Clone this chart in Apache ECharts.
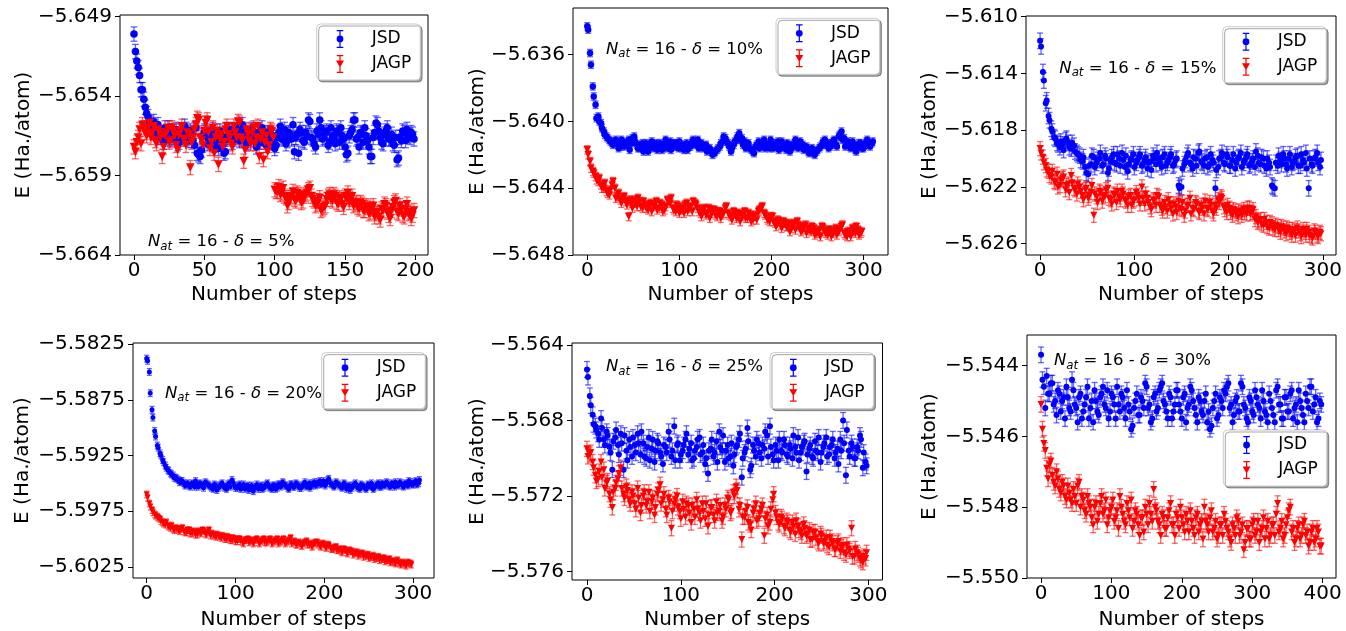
<!DOCTYPE html>
<html>
<head>
<meta charset="utf-8">
<script src="https://cdn.jsdelivr.net/npm/echarts@6/dist/echarts.min.js"></script>
<style>
html, body { margin: 0; padding: 0; background: #ffffff; }
#chart { width: 1346px; height: 631px; }
</style>
</head>
<body>
<div id="chart"></div>
<script>
// ---- VMC energy per atom (Ha./atom) vs optimisation step, N_at = 16 ----
// Each array holds the energies sampled every `stride` steps, beginning at its `start` step.

// delta = 5%  (even steps: *a, odd steps: *b)
const jsd1a = [-5.6501,-5.6518,-5.6527,-5.6536,-5.6547,-5.6553,-5.6558,-5.6556,-5.6561,-5.6564,
  -5.6565,-5.6560,-5.6567,-5.6562,-5.6566,-5.6561,-5.6569,-5.6563,-5.6559,-5.6566,
  -5.6562,-5.6568,-5.6560,-5.6577,-5.6574,-5.6563,-5.6570,-5.6566,-5.6561,-5.6568,
  -5.6573,-5.6565,-5.6576,-5.6567,-5.6562,-5.6569,-5.6564,-5.6560,-5.6567,-5.6563,
  -5.6570,-5.6565,-5.6561,-5.6567,-5.6563,-5.6569,-5.6565,-5.6571,-5.6564,-5.6568,
  -5.6573,-5.6566,-5.6559,-5.6565,-5.6570,-5.6563,-5.6567,-5.6575,-5.6564,-5.6561,
  -5.6568,-5.6563,-5.6555,-5.6566,-5.6570,-5.6562,-5.6555,-5.6567,-5.6563,-5.6571,
  -5.6560,-5.6566,-5.6562,-5.6569,-5.6565,-5.6572,-5.6576,-5.6563,-5.6555,-5.6567,
  -5.6572,-5.6564,-5.6560,-5.6568,-5.6578,-5.6566,-5.6557,-5.6562,-5.6569,-5.6564,
  -5.6560,-5.6567,-5.6570,-5.6566,-5.6579,-5.6568,-5.6563,-5.6561,-5.6566,-5.6564];
const jsd1b = [-5.6512,-5.6522,-5.6536,-5.6542,-5.6551,-5.6557,-5.6560,-5.6563,-5.6558,-5.6566,
  -5.6569,-5.6563,-5.6560,-5.6567,-5.6564,-5.6570,-5.6562,-5.6566,-5.6561,-5.6568,
  -5.6564,-5.6571,-5.6576,-5.6578,-5.6565,-5.6562,-5.6568,-5.6564,-5.6571,-5.6566,
  -5.6562,-5.6569,-5.6575,-5.6565,-5.6561,-5.6567,-5.6563,-5.6568,-5.6558,-5.6565,
  -5.6569,-5.6562,-5.6566,-5.6572,-5.6564,-5.6560,-5.6567,-5.6563,-5.6569,-5.6565,
  -5.6571,-5.6563,-5.6567,-5.6561,-5.6568,-5.6564,-5.6558,-5.6566,-5.6576,-5.6563,
  -5.6569,-5.6565,-5.6556,-5.6567,-5.6572,-5.6564,-5.6560,-5.6566,-5.6562,-5.6569,
  -5.6565,-5.6570,-5.6563,-5.6560,-5.6567,-5.6577,-5.6565,-5.6561,-5.6555,-5.6566,
  -5.6563,-5.6569,-5.6565,-5.6572,-5.6578,-5.6563,-5.6558,-5.6566,-5.6570,-5.6562,
  -5.6567,-5.6564,-5.6571,-5.6580,-5.6566,-5.6562,-5.6568,-5.6565,-5.6563,-5.6567];
const jagp1a = [-5.6572,-5.6569,-5.6561,-5.6558,-5.6563,-5.6560,-5.6566,-5.6559,-5.6570,-5.6563,
  -5.6578,-5.6565,-5.6560,-5.6568,-5.6562,-5.6571,-5.6564,-5.6559,-5.6567,-5.6563,
  -5.6585,-5.6566,-5.6558,-5.6555,-5.6568,-5.6562,-5.6555,-5.6573,-5.6560,-5.6566,
  -5.6583,-5.6564,-5.6569,-5.6559,-5.6566,-5.6572,-5.6563,-5.6556,-5.6566,-5.6581,
  -5.6561,-5.6568,-5.6563,-5.6570,-5.6559,-5.6567,-5.6580,-5.6565,-5.6571,-5.6562,
  -5.6599,-5.6600,-5.6602,-5.6598,-5.6604,-5.6607,-5.6603,-5.6605,-5.6601,-5.6604,
  -5.6606,-5.6602,-5.6599,-5.6603,-5.6606,-5.6608,-5.6604,-5.6611,-5.6609,-5.6603,
  -5.6605,-5.6602,-5.6607,-5.6604,-5.6608,-5.6603,-5.6601,-5.6605,-5.6609,-5.6607,
  -5.6611,-5.6608,-5.6612,-5.6610,-5.6613,-5.6609,-5.6614,-5.6616,-5.6611,-5.6608,
  -5.6613,-5.6617,-5.6610,-5.6606,-5.6614,-5.6611,-5.6616,-5.6608,-5.6613,-5.6615];
const jagp1b = [-5.6575,-5.6566,-5.6570,-5.6560,-5.6565,-5.6557,-5.6563,-5.6568,-5.6561,-5.6566,
  -5.6572,-5.6563,-5.6569,-5.6560,-5.6565,-5.6574,-5.6562,-5.6567,-5.6571,-5.6564,
  -5.6569,-5.6561,-5.6554,-5.6566,-5.6571,-5.6557,-5.6563,-5.6569,-5.6576,-5.6562,
  -5.6567,-5.6572,-5.6561,-5.6564,-5.6570,-5.6559,-5.6566,-5.6557,-5.6568,-5.6574,
  -5.6564,-5.6570,-5.6560,-5.6566,-5.6578,-5.6563,-5.6569,-5.6575,-5.6561,-5.6566,
  -5.6600,-5.6597,-5.6601,-5.6603,-5.6609,-5.6604,-5.6600,-5.6606,-5.6602,-5.6607,
  -5.6603,-5.6601,-5.6598,-5.6605,-5.6609,-5.6606,-5.6612,-5.6610,-5.6605,-5.6602,
  -5.6606,-5.6603,-5.6608,-5.6605,-5.6610,-5.6604,-5.6607,-5.6603,-5.6608,-5.6610,
  -5.6607,-5.6612,-5.6609,-5.6614,-5.6611,-5.6616,-5.6613,-5.6618,-5.6612,-5.6609,
  -5.6615,-5.6612,-5.6607,-5.6613,-5.6609,-5.6615,-5.6611,-5.6614,-5.6617,-5.6612];

// delta = 10%  (steps 0,3,6..: *a, steps 1,4,7..: *b)
const jsd2a = [-5.6343,-5.6359,-5.6379,-5.6390,-5.6397,-5.6401,-5.6406,-5.6409,-5.6411,-5.6413,-5.6412,
  -5.6413,-5.6415,-5.6412,-5.6414,-5.6411,-5.6413,-5.6409,-5.6414,-5.6416,-5.6413,
  -5.6415,-5.6418,-5.6414,-5.6416,-5.6413,-5.6415,-5.6417,-5.6414,-5.6416,-5.6412,
  -5.6415,-5.6413,-5.6416,-5.6414,-5.6417,-5.6413,-5.6415,-5.6412,-5.6414,-5.6411,
  -5.6414,-5.6416,-5.6414,-5.6417,-5.6418,-5.6419,-5.6417,-5.6415,-5.6412,-5.6410,
  -5.6413,-5.6418,-5.6414,-5.6411,-5.6407,-5.6410,-5.6412,-5.6414,-5.6416,-5.6418,
  -5.6415,-5.6412,-5.6414,-5.6411,-5.6414,-5.6416,-5.6413,-5.6415,-5.6412,-5.6416,
  -5.6414,-5.6417,-5.6414,-5.6416,-5.6413,-5.6415,-5.6412,-5.6414,-5.6416,-5.6418,
  -5.6417,-5.6419,-5.6418,-5.6416,-5.6414,-5.6411,-5.6413,-5.6415,-5.6412,-5.6414,
  -5.6409,-5.6406,-5.6410,-5.6413,-5.6415,-5.6412,-5.6417,-5.6415,-5.6413,-5.6416,
  -5.6412,-5.6414,-5.6413];
const jsd2b = [-5.6345,-5.6366,-5.6385,-5.6398,-5.6400,-5.6404,-5.6408,-5.6410,-5.6412,-5.6414,-5.6411,
  -5.6416,-5.6411,-5.6415,-5.6413,-5.6417,-5.6410,-5.6412,-5.6416,-5.6414,-5.6418,
  -5.6413,-5.6416,-5.6412,-5.6415,-5.6417,-5.6413,-5.6416,-5.6411,-5.6414,-5.6417,
  -5.6413,-5.6415,-5.6412,-5.6416,-5.6414,-5.6417,-5.6415,-5.6411,-5.6413,-5.6416,
  -5.6413,-5.6415,-5.6418,-5.6416,-5.6420,-5.6418,-5.6416,-5.6413,-5.6409,-5.6412,
  -5.6415,-5.6416,-5.6412,-5.6409,-5.6411,-5.6414,-5.6416,-5.6413,-5.6417,-5.6419,
  -5.6414,-5.6416,-5.6413,-5.6416,-5.6414,-5.6411,-5.6416,-5.6413,-5.6417,-5.6412,
  -5.6415,-5.6413,-5.6418,-5.6414,-5.6411,-5.6416,-5.6413,-5.6417,-5.6415,-5.6419,
  -5.6416,-5.6420,-5.6417,-5.6415,-5.6412,-5.6414,-5.6416,-5.6413,-5.6411,-5.6415,
  -5.6408,-5.6411,-5.6415,-5.6412,-5.6416,-5.6414,-5.6418,-5.6413,-5.6416,-5.6414,
  -5.6411,-5.6415,-5.6412];
const jagp2a = [-5.6417,-5.6424,-5.6430,-5.6433,-5.6436,-5.6438,-5.6440,-5.6442,-5.6444,-5.6438,
  -5.6440,-5.6445,-5.6447,-5.6446,-5.6448,-5.6457,-5.6449,-5.6447,-5.6451,-5.6448,
  -5.6452,-5.6450,-5.6453,-5.6449,-5.6451,-5.6448,-5.6452,-5.6450,-5.6453,-5.6447,
  -5.6449,-5.6452,-5.6454,-5.6451,-5.6453,-5.6455,-5.6449,-5.6452,-5.6454,-5.6449,
  -5.6452,-5.6455,-5.6453,-5.6456,-5.6452,-5.6455,-5.6453,-5.6457,-5.6454,-5.6456,
  -5.6452,-5.6455,-5.6457,-5.6454,-5.6458,-5.6455,-5.6457,-5.6454,-5.6458,-5.6456,
  -5.6459,-5.6456,-5.6454,-5.6452,-5.6455,-5.6458,-5.6460,-5.6457,-5.6461,-5.6459,
  -5.6462,-5.6460,-5.6463,-5.6461,-5.6464,-5.6461,-5.6460,-5.6463,-5.6465,-5.6462,
  -5.6464,-5.6466,-5.6464,-5.6467,-5.6465,-5.6463,-5.6466,-5.6468,-5.6465,-5.6467,
  -5.6464,-5.6466,-5.6463,-5.6467,-5.6469,-5.6466,-5.6464,-5.6467,-5.6465,-5.6467];
const jagp2b = [-5.6420,-5.6428,-5.6431,-5.6435,-5.6434,-5.6440,-5.6437,-5.6443,-5.6441,-5.6436,
  -5.6446,-5.6443,-5.6449,-5.6445,-5.6450,-5.6447,-5.6452,-5.6449,-5.6446,-5.6451,
  -5.6448,-5.6452,-5.6450,-5.6454,-5.6450,-5.6453,-5.6449,-5.6454,-5.6451,-5.6448,
  -5.6446,-5.6453,-5.6450,-5.6455,-5.6452,-5.6450,-5.6454,-5.6451,-5.6448,-5.6450,
  -5.6454,-5.6457,-5.6452,-5.6455,-5.6458,-5.6453,-5.6456,-5.6454,-5.6458,-5.6455,
  -5.6451,-5.6456,-5.6459,-5.6455,-5.6457,-5.6460,-5.6456,-5.6458,-5.6455,-5.6460,
  -5.6457,-5.6459,-5.6453,-5.6451,-5.6456,-5.6459,-5.6457,-5.6460,-5.6463,-5.6460,
  -5.6464,-5.6461,-5.6463,-5.6466,-5.6462,-5.6465,-5.6462,-5.6466,-5.6463,-5.6467,
  -5.6465,-5.6463,-5.6468,-5.6466,-5.6469,-5.6464,-5.6467,-5.6465,-5.6469,-5.6466,
  -5.6468,-5.6465,-5.6462,-5.6468,-5.6466,-5.6469,-5.6466,-5.6463,-5.6468,-5.6466];

// delta = 15%  (steps 0,3,6..: *a, steps 1,4,7..: *b)
const jsd3a = [-5.6117,-5.6139,-5.6161,-5.6170,-5.6179,-5.6185,-5.6189,-5.6192,-5.6190,-5.6187,
  -5.6189,-5.6193,-5.6191,-5.6196,-5.6198,-5.6202,-5.6206,-5.6211,-5.6204,-5.6199,
  -5.6203,-5.6200,-5.6205,-5.6198,-5.6210,-5.6202,-5.6197,-5.6204,-5.6200,-5.6196,
  -5.6206,-5.6209,-5.6201,-5.6197,-5.6203,-5.6199,-5.6205,-5.6201,-5.6207,-5.6202,
  -5.6198,-5.6204,-5.6200,-5.6206,-5.6197,-5.6203,-5.6199,-5.6205,-5.6201,-5.6219,
  -5.6220,-5.6204,-5.6198,-5.6203,-5.6207,-5.6200,-5.6196,-5.6202,-5.6205,-5.6199,
  -5.6204,-5.6201,-5.6221,-5.6206,-5.6199,-5.6203,-5.6197,-5.6205,-5.6201,-5.6207,
  -5.6200,-5.6196,-5.6203,-5.6199,-5.6205,-5.6202,-5.6206,-5.6198,-5.6204,-5.6200,
  -5.6207,-5.6203,-5.6219,-5.6221,-5.6205,-5.6201,-5.6197,-5.6204,-5.6200,-5.6206,
  -5.6202,-5.6198,-5.6205,-5.6201,-5.6196,-5.6221,-5.6204,-5.6200,-5.6196,-5.6206];
const jsd3b = [-5.6121,-5.6145,-5.6159,-5.6173,-5.6181,-5.6186,-5.6190,-5.6188,-5.6194,-5.6186,
  -5.6192,-5.6189,-5.6195,-5.6197,-5.6201,-5.6199,-5.6210,-5.6205,-5.6198,-5.6206,
  -5.6201,-5.6196,-5.6204,-5.6200,-5.6207,-5.6199,-5.6203,-5.6197,-5.6205,-5.6201,
  -5.6198,-5.6204,-5.6200,-5.6206,-5.6201,-5.6197,-5.6204,-5.6199,-5.6203,-5.6208,
  -5.6200,-5.6196,-5.6203,-5.6199,-5.6205,-5.6201,-5.6197,-5.6204,-5.6200,-5.6221,
  -5.6207,-5.6201,-5.6196,-5.6204,-5.6199,-5.6205,-5.6195,-5.6203,-5.6200,-5.6206,
  -5.6197,-5.6203,-5.6208,-5.6200,-5.6196,-5.6204,-5.6199,-5.6205,-5.6197,-5.6203,
  -5.6199,-5.6206,-5.6201,-5.6197,-5.6204,-5.6200,-5.6195,-5.6203,-5.6199,-5.6205,
  -5.6200,-5.6206,-5.6220,-5.6203,-5.6198,-5.6204,-5.6200,-5.6207,-5.6197,-5.6203,
  -5.6199,-5.6205,-5.6197,-5.6203,-5.6207,-5.6200,-5.6205,-5.6199,-5.6203,-5.6201];
const jagp3a = [-5.6193,-5.6199,-5.6205,-5.6209,-5.6213,-5.6216,-5.6211,-5.6219,-5.6214,-5.6222,
  -5.6218,-5.6212,-5.6221,-5.6225,-5.6220,-5.6226,-5.6222,-5.6228,-5.6224,-5.6240,
  -5.6227,-5.6223,-5.6230,-5.6226,-5.6221,-5.6229,-5.6225,-5.6231,-5.6227,-5.6223,
  -5.6229,-5.6233,-5.6226,-5.6230,-5.6224,-5.6228,-5.6220,-5.6232,-5.6228,-5.6234,
  -5.6229,-5.6233,-5.6227,-5.6235,-5.6231,-5.6237,-5.6232,-5.6239,-5.6234,-5.6230,
  -5.6236,-5.6240,-5.6233,-5.6228,-5.6235,-5.6231,-5.6237,-5.6233,-5.6239,-5.6235,
  -5.6231,-5.6237,-5.6233,-5.6229,-5.6227,-5.6234,-5.6238,-5.6235,-5.6240,-5.6237,
  -5.6241,-5.6238,-5.6236,-5.6239,-5.6235,-5.6238,-5.6243,-5.6245,-5.6243,-5.6247,
  -5.6245,-5.6249,-5.6246,-5.6250,-5.6248,-5.6252,-5.6249,-5.6253,-5.6250,-5.6254,
  -5.6251,-5.6249,-5.6253,-5.6250,-5.6254,-5.6252,-5.6255,-5.6251,-5.6254,-5.6252];
const jagp3b = [-5.6196,-5.6203,-5.6208,-5.6212,-5.6209,-5.6217,-5.6220,-5.6215,-5.6213,-5.6219,
  -5.6224,-5.6217,-5.6222,-5.6218,-5.6223,-5.6229,-5.6221,-5.6226,-5.6219,-5.6225,
  -5.6231,-5.6224,-5.6227,-5.6222,-5.6228,-5.6232,-5.6226,-5.6223,-5.6229,-5.6225,
  -5.6230,-5.6227,-5.6233,-5.6229,-5.6226,-5.6232,-5.6228,-5.6225,-5.6231,-5.6236,
  -5.6230,-5.6226,-5.6233,-5.6237,-5.6234,-5.6229,-5.6235,-5.6232,-5.6238,-5.6235,
  -5.6231,-5.6237,-5.6233,-5.6239,-5.6236,-5.6232,-5.6238,-5.6235,-5.6230,-5.6236,
  -5.6233,-5.6239,-5.6235,-5.6231,-5.6228,-5.6236,-5.6233,-5.6238,-5.6236,-5.6239,
  -5.6237,-5.6240,-5.6238,-5.6235,-5.6239,-5.6236,-5.6241,-5.6244,-5.6246,-5.6243,
  -5.6248,-5.6245,-5.6249,-5.6247,-5.6250,-5.6248,-5.6251,-5.6249,-5.6252,-5.6250,
  -5.6254,-5.6251,-5.6255,-5.6252,-5.6250,-5.6254,-5.6256,-5.6252,-5.6255,-5.6253];

// delta = 20%  (steps 0,3,6..: *a, steps 1,4,7..: *b)
const jsd4a = [-5.5838,-5.5850,-5.5884,-5.5903,-5.5916,-5.5923,-5.5929,-5.5934,-5.5938,-5.5941,
  -5.5943,-5.5945,-5.5947,-5.5948,-5.5950,-5.5951,-5.5952,-5.5950,-5.5953,-5.5951,
  -5.5950,-5.5952,-5.5949,-5.5951,-5.5953,-5.5955,-5.5952,-5.5954,-5.5951,-5.5953,
  -5.5955,-5.5950,-5.5947,-5.5952,-5.5954,-5.5951,-5.5953,-5.5955,-5.5952,-5.5954,
  -5.5957,-5.5953,-5.5955,-5.5952,-5.5954,-5.5951,-5.5953,-5.5955,-5.5952,-5.5954,
  -5.5951,-5.5949,-5.5952,-5.5954,-5.5951,-5.5953,-5.5950,-5.5952,-5.5954,-5.5951,
  -5.5953,-5.5950,-5.5952,-5.5949,-5.5951,-5.5948,-5.5950,-5.5952,-5.5947,-5.5950,
  -5.5952,-5.5949,-5.5951,-5.5953,-5.5950,-5.5955,-5.5952,-5.5954,-5.5951,-5.5953,
  -5.5955,-5.5952,-5.5954,-5.5951,-5.5953,-5.5955,-5.5952,-5.5950,-5.5953,-5.5951,
  -5.5949,-5.5952,-5.5950,-5.5953,-5.5951,-5.5949,-5.5952,-5.5950,-5.5952,-5.5949,
  -5.5951,-5.5948,-5.5950];
const jsd4b = [-5.5840,-5.5869,-5.5891,-5.5908,-5.5918,-5.5925,-5.5931,-5.5936,-5.5939,-5.5942,
  -5.5945,-5.5946,-5.5949,-5.5948,-5.5952,-5.5950,-5.5953,-5.5951,-5.5948,-5.5953,
  -5.5951,-5.5954,-5.5950,-5.5952,-5.5954,-5.5951,-5.5956,-5.5952,-5.5950,-5.5954,
  -5.5951,-5.5953,-5.5949,-5.5954,-5.5952,-5.5955,-5.5951,-5.5953,-5.5956,-5.5952,
  -5.5954,-5.5951,-5.5953,-5.5955,-5.5952,-5.5950,-5.5954,-5.5952,-5.5955,-5.5951,
  -5.5953,-5.5950,-5.5952,-5.5955,-5.5951,-5.5953,-5.5951,-5.5954,-5.5952,-5.5949,
  -5.5952,-5.5954,-5.5950,-5.5952,-5.5949,-5.5951,-5.5948,-5.5950,-5.5946,-5.5951,
  -5.5953,-5.5950,-5.5952,-5.5954,-5.5951,-5.5953,-5.5956,-5.5952,-5.5950,-5.5954,
  -5.5951,-5.5953,-5.5955,-5.5952,-5.5950,-5.5954,-5.5951,-5.5953,-5.5950,-5.5952,
  -5.5950,-5.5953,-5.5951,-5.5949,-5.5952,-5.5950,-5.5953,-5.5951,-5.5948,-5.5951,
  -5.5949,-5.5951,-5.5947];
const jagp4a = [-5.5960,-5.5968,-5.5974,-5.5978,-5.5980,-5.5982,-5.5985,-5.5987,-5.5988,-5.5990,
  -5.5991,-5.5990,-5.5992,-5.5991,-5.5993,-5.5994,-5.5992,-5.5995,-5.5994,-5.5996,
  -5.5994,-5.5992,-5.5995,-5.5994,-5.5997,-5.5996,-5.5998,-5.5997,-5.5999,-5.5998,
  -5.6000,-5.5999,-5.6001,-5.6000,-5.6002,-5.6000,-5.6003,-5.6001,-5.6000,-5.6002,
  -5.6004,-5.6001,-5.6003,-5.6002,-5.6000,-5.6003,-5.6001,-5.6004,-5.6002,-5.6000,
  -5.6003,-5.6001,-5.6004,-5.6002,-5.5999,-5.6003,-5.6005,-5.6003,-5.6006,-5.6004,
  -5.6002,-5.6005,-5.6007,-5.6004,-5.6003,-5.6006,-5.6004,-5.6007,-5.6005,-5.6008,
  -5.6009,-5.6007,-5.6010,-5.6011,-5.6009,-5.6012,-5.6010,-5.6011,-5.6013,-5.6012,
  -5.6014,-5.6013,-5.6015,-5.6014,-5.6016,-5.6015,-5.6017,-5.6016,-5.6018,-5.6017,
  -5.6019,-5.6018,-5.6020,-5.6021,-5.6019,-5.6022,-5.6021,-5.6023,-5.6021,-5.6022];
const jagp4b = [-5.5963,-5.5971,-5.5976,-5.5979,-5.5981,-5.5984,-5.5986,-5.5985,-5.5989,-5.5988,
  -5.5992,-5.5991,-5.5993,-5.5990,-5.5994,-5.5992,-5.5995,-5.5993,-5.5996,-5.5993,
  -5.5995,-5.5993,-5.5996,-5.5992,-5.5995,-5.5997,-5.5996,-5.5998,-5.5997,-5.6000,
  -5.5998,-5.6001,-5.5999,-5.6002,-5.6000,-5.6002,-5.6004,-5.6001,-5.6003,-5.6001,
  -5.6003,-5.6000,-5.6004,-5.6001,-5.6003,-5.6002,-5.6000,-5.6003,-5.6001,-5.6004,
  -5.6002,-5.6000,-5.6003,-5.6001,-5.6004,-5.6002,-5.6005,-5.6004,-5.6006,-5.6003,
  -5.6005,-5.6004,-5.6006,-5.6003,-5.6005,-5.6007,-5.6005,-5.6008,-5.6006,-5.6009,
  -5.6008,-5.6010,-5.6009,-5.6012,-5.6010,-5.6013,-5.6011,-5.6014,-5.6012,-5.6015,
  -5.6013,-5.6016,-5.6015,-5.6017,-5.6016,-5.6018,-5.6017,-5.6019,-5.6018,-5.6020,
  -5.6019,-5.6021,-5.6020,-5.6022,-5.6021,-5.6023,-5.6022,-5.6024,-5.6022,-5.6023];

// delta = 25%  (steps 0,3,6..: *a, steps 1,4,7..: *b)
const jsd5a = [-5.5653,-5.5667,-5.5677,-5.5683,-5.5687,-5.5679,-5.5690,-5.5686,-5.5694,-5.5706,
  -5.5689,-5.5693,-5.5687,-5.5706,-5.5696,-5.5690,-5.5699,-5.5693,-5.5687,-5.5698,
  -5.5692,-5.5700,-5.5689,-5.5695,-5.5702,-5.5691,-5.5697,-5.5703,-5.5694,-5.5686,
  -5.5699,-5.5683,-5.5693,-5.5701,-5.5696,-5.5690,-5.5698,-5.5692,-5.5700,-5.5694,
  -5.5689,-5.5697,-5.5703,-5.5708,-5.5695,-5.5699,-5.5691,-5.5686,-5.5696,-5.5702,
  -5.5693,-5.5699,-5.5704,-5.5694,-5.5690,-5.5710,-5.5697,-5.5684,-5.5706,-5.5693,
  -5.5699,-5.5692,-5.5700,-5.5695,-5.5688,-5.5683,-5.5698,-5.5693,-5.5701,-5.5696,
  -5.5690,-5.5698,-5.5693,-5.5700,-5.5694,-5.5689,-5.5697,-5.5692,-5.5707,-5.5695,
  -5.5699,-5.5691,-5.5697,-5.5702,-5.5694,-5.5689,-5.5698,-5.5693,-5.5700,-5.5695,
  -5.5690,-5.5680,-5.5709,-5.5696,-5.5692,-5.5700,-5.5694,-5.5688,-5.5705,-5.5702];
const jsd5b = [-5.5657,-5.5672,-5.5682,-5.5685,-5.5690,-5.5684,-5.5693,-5.5688,-5.5697,-5.5691,
  -5.5685,-5.5698,-5.5692,-5.5688,-5.5701,-5.5694,-5.5689,-5.5697,-5.5692,-5.5686,
  -5.5699,-5.5694,-5.5701,-5.5690,-5.5696,-5.5692,-5.5699,-5.5693,-5.5697,-5.5690,
  -5.5696,-5.5701,-5.5692,-5.5698,-5.5693,-5.5687,-5.5695,-5.5701,-5.5696,-5.5690,
  -5.5698,-5.5693,-5.5700,-5.5696,-5.5690,-5.5697,-5.5702,-5.5694,-5.5688,-5.5696,
  -5.5700,-5.5692,-5.5698,-5.5693,-5.5687,-5.5700,-5.5695,-5.5691,-5.5704,-5.5696,
  -5.5690,-5.5697,-5.5693,-5.5686,-5.5699,-5.5694,-5.5701,-5.5696,-5.5690,-5.5697,
  -5.5693,-5.5699,-5.5695,-5.5688,-5.5697,-5.5701,-5.5694,-5.5691,-5.5698,-5.5693,
  -5.5700,-5.5696,-5.5689,-5.5697,-5.5692,-5.5699,-5.5694,-5.5690,-5.5697,-5.5703,
  -5.5696,-5.5692,-5.5685,-5.5699,-5.5694,-5.5700,-5.5696,-5.5690,-5.5697,-5.5704];
const jagp5a = [-5.5695,-5.5698,-5.5702,-5.5709,-5.5711,-5.5702,-5.5706,-5.5713,-5.5719,-5.5726,
  -5.5716,-5.5711,-5.5705,-5.5719,-5.5715,-5.5722,-5.5718,-5.5724,-5.5716,-5.5729,
  -5.5720,-5.5725,-5.5718,-5.5723,-5.5730,-5.5719,-5.5714,-5.5722,-5.5727,-5.5721,
  -5.5737,-5.5724,-5.5720,-5.5728,-5.5723,-5.5731,-5.5725,-5.5734,-5.5727,-5.5722,
  -5.5729,-5.5724,-5.5732,-5.5736,-5.5726,-5.5730,-5.5723,-5.5728,-5.5733,-5.5725,
  -5.5721,-5.5729,-5.5718,-5.5715,-5.5727,-5.5743,-5.5731,-5.5726,-5.5735,-5.5729,
  -5.5724,-5.5732,-5.5727,-5.5741,-5.5730,-5.5734,-5.5722,-5.5729,-5.5734,-5.5731,
  -5.5736,-5.5733,-5.5738,-5.5734,-5.5740,-5.5736,-5.5739,-5.5735,-5.5741,-5.5738,
  -5.5743,-5.5739,-5.5744,-5.5740,-5.5745,-5.5742,-5.5747,-5.5744,-5.5748,-5.5745,
  -5.5749,-5.5746,-5.5751,-5.5748,-5.5737,-5.5752,-5.5750,-5.5753,-5.5755,-5.5753];
const jagp5b = [-5.5699,-5.5697,-5.5705,-5.5712,-5.5707,-5.5710,-5.5716,-5.5712,-5.5722,-5.5718,
  -5.5713,-5.5708,-5.5716,-5.5721,-5.5717,-5.5724,-5.5720,-5.5727,-5.5721,-5.5725,
  -5.5718,-5.5723,-5.5728,-5.5721,-5.5726,-5.5717,-5.5724,-5.5719,-5.5730,-5.5723,
  -5.5728,-5.5722,-5.5726,-5.5732,-5.5727,-5.5724,-5.5729,-5.5725,-5.5731,-5.5727,
  -5.5733,-5.5728,-5.5724,-5.5730,-5.5726,-5.5733,-5.5729,-5.5725,-5.5731,-5.5727,
  -5.5722,-5.5728,-5.5720,-5.5717,-5.5725,-5.5731,-5.5728,-5.5734,-5.5738,-5.5727,
  -5.5733,-5.5729,-5.5725,-5.5732,-5.5736,-5.5727,-5.5719,-5.5731,-5.5735,-5.5732,
  -5.5737,-5.5734,-5.5739,-5.5736,-5.5733,-5.5738,-5.5741,-5.5737,-5.5740,-5.5743,
  -5.5739,-5.5742,-5.5745,-5.5741,-5.5744,-5.5746,-5.5742,-5.5745,-5.5748,-5.5744,
  -5.5747,-5.5750,-5.5746,-5.5749,-5.5752,-5.5748,-5.5751,-5.5754,-5.5752,-5.5750];

// delta = 30%  (steps 0,4,8..: *a, steps 2,6,10..: *b)
const jsd6a = [-5.5437,-5.5446,-5.5443,-5.5448,-5.5445,-5.5450,-5.5447,-5.5453,-5.5449,-5.5446,
  -5.5452,-5.5444,-5.5451,-5.5456,-5.5448,-5.5453,-5.5449,-5.5455,-5.5450,-5.5447,
  -5.5453,-5.5449,-5.5446,-5.5452,-5.5455,-5.5448,-5.5451,-5.5446,-5.5453,-5.5449,
  -5.5455,-5.5451,-5.5458,-5.5452,-5.5448,-5.5454,-5.5450,-5.5445,-5.5452,-5.5456,
  -5.5449,-5.5453,-5.5447,-5.5445,-5.5451,-5.5455,-5.5449,-5.5453,-5.5447,-5.5451,
  -5.5455,-5.5448,-5.5452,-5.5446,-5.5450,-5.5454,-5.5449,-5.5453,-5.5450,-5.5456,
  -5.5458,-5.5452,-5.5448,-5.5454,-5.5450,-5.5447,-5.5446,-5.5452,-5.5456,-5.5450,
  -5.5453,-5.5445,-5.5451,-5.5455,-5.5449,-5.5453,-5.5447,-5.5451,-5.5455,-5.5450,
  -5.5454,-5.5448,-5.5452,-5.5456,-5.5446,-5.5451,-5.5455,-5.5449,-5.5453,-5.5447,
  -5.5452,-5.5456,-5.5450,-5.5454,-5.5448,-5.5452,-5.5446,-5.5451,-5.5456,-5.5450];
const jsd6b = [-5.5444,-5.5452,-5.5448,-5.5445,-5.5451,-5.5454,-5.5448,-5.5450,-5.5455,-5.5449,
  -5.5453,-5.5447,-5.5452,-5.5449,-5.5455,-5.5451,-5.5446,-5.5452,-5.5456,-5.5450,
  -5.5454,-5.5448,-5.5451,-5.5447,-5.5453,-5.5449,-5.5455,-5.5451,-5.5448,-5.5452,
  -5.5447,-5.5453,-5.5457,-5.5450,-5.5454,-5.5449,-5.5452,-5.5446,-5.5451,-5.5455,
  -5.5448,-5.5452,-5.5446,-5.5450,-5.5453,-5.5448,-5.5455,-5.5451,-5.5447,-5.5453,
  -5.5449,-5.5456,-5.5451,-5.5447,-5.5452,-5.5456,-5.5450,-5.5454,-5.5448,-5.5453,
  -5.5457,-5.5450,-5.5455,-5.5449,-5.5452,-5.5448,-5.5445,-5.5451,-5.5454,-5.5449,
  -5.5453,-5.5446,-5.5452,-5.5456,-5.5450,-5.5454,-5.5449,-5.5452,-5.5447,-5.5453,
  -5.5456,-5.5450,-5.5454,-5.5447,-5.5451,-5.5455,-5.5449,-5.5453,-5.5448,-5.5455,
  -5.5451,-5.5447,-5.5452,-5.5456,-5.5450,-5.5446,-5.5453,-5.5449,-5.5455,-5.5451];
const jagp6a = [-5.5451,-5.5462,-5.5469,-5.5468,-5.5471,-5.5474,-5.5472,-5.5476,-5.5474,-5.5478,
  -5.5476,-5.5479,-5.5477,-5.5474,-5.5480,-5.5478,-5.5482,-5.5479,-5.5483,-5.5480,
  -5.5484,-5.5479,-5.5482,-5.5478,-5.5483,-5.5480,-5.5484,-5.5481,-5.5477,-5.5482,
  -5.5485,-5.5481,-5.5478,-5.5484,-5.5482,-5.5488,-5.5483,-5.5480,-5.5485,-5.5482,
  -5.5475,-5.5481,-5.5485,-5.5482,-5.5486,-5.5483,-5.5479,-5.5485,-5.5482,-5.5486,
  -5.5483,-5.5487,-5.5484,-5.5481,-5.5486,-5.5483,-5.5487,-5.5484,-5.5480,-5.5485,
  -5.5483,-5.5487,-5.5484,-5.5488,-5.5485,-5.5482,-5.5486,-5.5489,-5.5485,-5.5488,
  -5.5484,-5.5487,-5.5492,-5.5486,-5.5489,-5.5485,-5.5488,-5.5484,-5.5487,-5.5483,
  -5.5486,-5.5489,-5.5485,-5.5488,-5.5479,-5.5486,-5.5489,-5.5485,-5.5481,-5.5487,
  -5.5490,-5.5486,-5.5489,-5.5485,-5.5488,-5.5491,-5.5487,-5.5490,-5.5486,-5.5491];
const jagp6b = [-5.5458,-5.5464,-5.5472,-5.5467,-5.5473,-5.5470,-5.5475,-5.5473,-5.5477,-5.5474,
  -5.5478,-5.5475,-5.5479,-5.5473,-5.5477,-5.5481,-5.5477,-5.5480,-5.5485,-5.5479,
  -5.5482,-5.5477,-5.5481,-5.5485,-5.5481,-5.5478,-5.5483,-5.5486,-5.5480,-5.5484,
  -5.5479,-5.5483,-5.5486,-5.5481,-5.5485,-5.5483,-5.5487,-5.5482,-5.5479,-5.5484,
  -5.5480,-5.5484,-5.5488,-5.5483,-5.5486,-5.5481,-5.5485,-5.5488,-5.5483,-5.5480,
  -5.5485,-5.5482,-5.5487,-5.5484,-5.5488,-5.5482,-5.5485,-5.5489,-5.5484,-5.5487,
  -5.5481,-5.5486,-5.5489,-5.5485,-5.5488,-5.5484,-5.5487,-5.5490,-5.5486,-5.5483,
  -5.5488,-5.5485,-5.5490,-5.5486,-5.5489,-5.5484,-5.5487,-5.5490,-5.5486,-5.5489,
  -5.5484,-5.5488,-5.5485,-5.5482,-5.5487,-5.5484,-5.5488,-5.5483,-5.5480,-5.5486,
  -5.5489,-5.5485,-5.5488,-5.5484,-5.5487,-5.5490,-5.5486,-5.5489,-5.5487,-5.5491];

// one-sigma error bars for [JSD, JAGP] in each run
const errors = [[0.00045, 0.00045], [0.00022, 0.00025], [0.00055, 0.0005],
                [0.0003, 0.0003], [0.00042, 0.0004], [0.00022, 0.00022]];

// displacement (%) per run
const deltas = [5, 10, 15, 20, 25, 30];

// axis ticks
const xTicks = [[0, 50, 100, 150, 200], [0, 100, 200, 300], [0, 100, 200, 300],
                [0, 100, 200, 300], [0, 100, 200, 300], [0, 100, 200, 300, 400]];
const yTicks = [[-5.664, -5.659, -5.654, -5.649], [-5.648, -5.644, -5.640, -5.636],
                [-5.626, -5.622, -5.618, -5.614, -5.610],
                [-5.6025, -5.5975, -5.5925, -5.5875, -5.5825],
                [-5.576, -5.572, -5.568, -5.564], [-5.550, -5.548, -5.546, -5.544]];

// [values, first step, stride]
const runs = [
  { jsd: [[jsd1a, 0, 2], [jsd1b, 1, 2]], jagp: [[jagp1a, 0, 2], [jagp1b, 1, 2]] },
  { jsd: [[jsd2a, 0, 3], [jsd2b, 1, 3]], jagp: [[jagp2a, 0, 3], [jagp2b, 1, 3]] },
  { jsd: [[jsd3a, 0, 3], [jsd3b, 1, 3]], jagp: [[jagp3a, 0, 3], [jagp3b, 1, 3]] },
  { jsd: [[jsd4a, 0, 3], [jsd4b, 1, 3]], jagp: [[jagp4a, 0, 3], [jagp4b, 1, 3]] },
  { jsd: [[jsd5a, 0, 3], [jsd5b, 1, 3]], jagp: [[jagp5a, 0, 3], [jagp5b, 1, 3]] },
  { jsd: [[jsd6a, 0, 4], [jsd6b, 2, 4]], jagp: [[jagp6a, 0, 4], [jagp6b, 2, 4]] }
];

// ---- layout of the six panels ----
const layout = [
  { grid: [120, 15, 308, 240], x: [-9.95, 208.95], y: [-5.664, -5.6489], dec: 3,
    yGap: 86, xGap: 30, legend: [316.7, 24], note: [148, 241.7], dot: 7.5, tri: 8.5, cap: 3.4 },
  { grid: [573, 8, 315, 247], x: [-15.5, 326.5], y: [-5.648, -5.6332], dec: 3,
    yGap: 85.6, xGap: 30, legend: [776, 18.3], note: [606, 49.3], dot: 6.5, tri: 7.5, cap: 3 },
  { grid: [1026, 16, 310, 239], x: [-14.95, 313.95], y: [-5.6268, -5.60995], dec: 3,
    yGap: 86.7, xGap: 30, legend: [1222.7, 26.7], note: [1059.3, 68.3], dot: 6, tri: 7, cap: 3 },
  { grid: [133, 343, 301, 238], x: [-15.4, 323.4], y: [-5.6035, -5.5824], dec: 4,
    yGap: 100.6, xGap: 32, legend: [321.7, 352.7], note: [165, 393.3], dot: 5, tri: 6, cap: 2.5 },
  { grid: [572, 343, 310.5, 238], x: [-16, 315], y: [-5.57644, -5.5639], dec: 3,
    yGap: 84, xGap: 30, legend: [770, 352.7], note: [606, 366.7], dot: 6, tri: 7, cap: 3 },
  { grid: [1027, 335, 309, 246], x: [-19.95, 418.95], y: [-5.550, -5.54314], dec: 3,
    yGap: 87.4, xGap: 32, legend: [1223.3, 430], note: [1054, 360.7], dot: 6, tri: 7, cap: 3 }
];

const BLUE = '#0000ff';
const RED = '#ff0000';
const FONT = 'DejaVu Sans';

// legend glyphs: error bar with caps plus the marker, drawn in a 45x18 box
const jsdIcon = 'path://M0,9 M45,9 M15,0 H21.6 V1.2 H15 Z M15,16.8 H21.6 V18 H15 Z ' +
  'M17.7,0 H18.9 V18 H17.7 Z M21.7,9 A3.4,3.4 0 1,1 14.9,9 A3.4,3.4 0 1,1 21.7,9 Z';
const jagpIcon = 'path://M0,9 M45,9 M15,0 H21.6 V1.2 H15 Z M15,16.8 H21.6 V18 H15 Z ' +
  'M17.7,0 H18.9 V18 H17.7 Z M14.3,5.6 H22.3 L18.3,12.6 Z';

function toPoints(chunks, err) {
  const pts = [];
  chunks.forEach(([values, start, stride]) => {
    values.forEach((v, i) => pts.push([start + i * stride, v, err]));
  });
  return pts.sort((a, b) => a[0] - b[0]);
}

function errorBars(cap, color) {
  return function (params, api) {
    const x = api.value(0), y = api.value(1), e = api.value(2);
    const hi = api.coord([x, y + e]);
    const lo = api.coord([x, y - e]);
    const style = { stroke: color, lineWidth: 1.3, opacity: 0.6 };
    return {
      type: 'group',
      children: [
        { type: 'line', shape: { x1: hi[0], y1: hi[1], x2: lo[0], y2: lo[1] }, style: style },
        { type: 'line', shape: { x1: hi[0] - cap, y1: hi[1], x2: hi[0] + cap, y2: hi[1] }, style: style },
        { type: 'line', shape: { x1: lo[0] - cap, y1: lo[1], x2: lo[0] + cap, y2: lo[1] }, style: style }
      ]
    };
  };
}

const minus = s => s.replace('-', '\u2212');

const grids = [], xAxes = [], yAxes = [], series = [], legends = [], graphics = [];

layout.forEach((L, k) => {
  const run = runs[k];
  grids.push({
    left: L.grid[0], top: L.grid[1], width: L.grid[2], height: L.grid[3],
    show: true, borderColor: '#000', borderWidth: 1, backgroundColor: 'transparent'
  });
  xAxes.push({
    type: 'value', gridIndex: k, min: L.x[0], max: L.x[1], position: 'bottom',
    name: 'Number of steps', nameLocation: 'middle', nameGap: L.xGap, nameMoveOverlap: false,
    nameTextStyle: { fontFamily: FONT, fontSize: 20, color: '#000' },
    axisLine: { show: false, onZero: false }, splitLine: { show: false },
    axisTick: { show: true, inside: false, length: 5, lineStyle: { color: '#000', width: 1 },
                customValues: xTicks[k] },
    axisLabel: { fontFamily: FONT, fontSize: 20, color: '#000', margin: 6,
                 customValues: xTicks[k], formatter: v => String(v) }
  });
  yAxes.push({
    type: 'value', gridIndex: k, min: L.y[0], max: L.y[1], position: 'left',
    name: 'E (Ha./atom)', nameLocation: 'middle', nameGap: L.yGap, nameMoveOverlap: false,
    nameTextStyle: { fontFamily: FONT, fontSize: 20, color: '#000' },
    axisLine: { show: false, onZero: false }, splitLine: { show: false },
    axisTick: { show: true, inside: false, length: 5, lineStyle: { color: '#000', width: 1 },
                customValues: yTicks[k] },
    axisLabel: { fontFamily: FONT, fontSize: 20, color: '#000', margin: 8,
                 customValues: yTicks[k], formatter: v => minus(v.toFixed(L.dec)) }
  });

  const jsdPts = toPoints(run.jsd, errors[k][0]);
  const jagpPts = toPoints(run.jagp, errors[k][1]);

  series.push(
    { type: 'custom', name: 'JSD', xAxisIndex: k, yAxisIndex: k, data: jsdPts,
      encode: { x: 0, y: 1 }, clip: true, itemStyle: { color: BLUE },
      renderItem: errorBars(L.cap, BLUE), silent: true },
    { type: 'scatter', name: 'JSD', xAxisIndex: k, yAxisIndex: k, data: jsdPts,
      symbol: 'circle', symbolSize: L.dot, clip: true, silent: true,
      itemStyle: { color: BLUE, opacity: 1 } },
    { type: 'custom', name: 'JAGP', xAxisIndex: k, yAxisIndex: k, data: jagpPts,
      encode: { x: 0, y: 1 }, clip: true, itemStyle: { color: RED },
      renderItem: errorBars(L.cap, RED), silent: true },
    { type: 'scatter', name: 'JAGP', xAxisIndex: k, yAxisIndex: k, data: jagpPts,
      symbol: 'triangle', symbolRotate: 180, symbolSize: L.tri, clip: true, silent: true,
      itemStyle: { color: RED, opacity: 1 } }
  );

  legends.push({
    orient: 'vertical', left: L.legend[0], top: L.legend[1],
    data: [
      { name: 'JSD', icon: jsdIcon, itemStyle: { color: BLUE } },
      { name: 'JAGP', icon: jagpIcon, itemStyle: { color: RED } }
    ],
    itemWidth: 45, itemHeight: 18, itemGap: 7,
    padding: [6, 9, 7, 5],
    backgroundColor: '#ffffff', borderColor: '#cccccc', borderWidth: 1, borderRadius: 4,
    shadowColor: 'rgba(0,0,0,0.35)', shadowBlur: 0, shadowOffsetX: 2, shadowOffsetY: 2,
    textStyle: { fontFamily: FONT, fontSize: 17, color: '#000' },
    selectedMode: false, z: 10
  });
});

// annotation "N_at = 16 - δ = x%" with an italic N, subscript "at" and italic δ
const measure = document.createElement('canvas').getContext('2d');
function textWidth(str, size, italic) {
  measure.font = (italic ? 'italic ' : '') + size + 'px "' + FONT + '"';
  return measure.measureText(str).width;
}
function noteElements(x, y, pct) {
  const size = 16.5, sub = 11.8;
  const parts = [
    { t: 'N', size: size, it: true, dy: 0 },
    { t: 'at', size: sub, it: true, dy: 5 },
    { t: ' = 16 - ', size: size, it: false, dy: 0 },
    { t: '\u03b4', size: size, it: true, dy: 0 },
    { t: ' = ' + pct + '%', size: size, it: false, dy: 0 }
  ];
  let cx = x;
  return parts.map(p => {
    const el = {
      type: 'text', x: cx, y: y + p.dy, z: 5,
      style: { text: p.t, fill: '#000', fontFamily: FONT, fontSize: p.size,
               fontStyle: p.it ? 'italic' : 'normal', verticalAlign: 'middle', align: 'left' }
    };
    cx += textWidth(p.t, p.size, p.it);
    return el;
  });
}
layout.forEach((L, k) => {
  noteElements(L.note[0], L.note[1], deltas[k]).forEach(el => graphics.push(el));
});

const chart = echarts.init(document.getElementById('chart'), null, { renderer: 'canvas' });
chart.setOption({
  animation: false,
  backgroundColor: '#ffffff',
  grid: grids,
  xAxis: xAxes,
  yAxis: yAxes,
  legend: legends,
  series: series,
  graphic: graphics
});
</script>
</body>
</html>
